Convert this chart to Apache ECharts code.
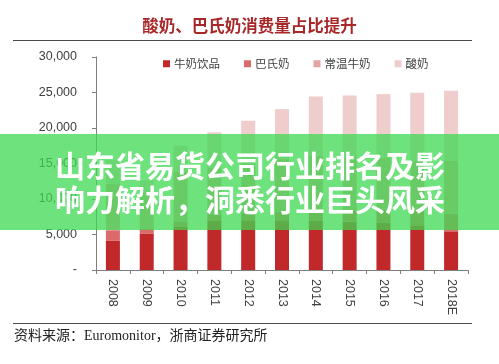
<!DOCTYPE html>
<html>
<head>
<meta charset="utf-8">
<script src="https://cdn.jsdelivr.net/npm/echarts@6/dist/echarts.min.js"></script>
<style>
html,body{margin:0;padding:0;background:#fff;}
#c{width:499px;height:364px;}
</style>
</head>
<body>
<div id="c"></div>
<script>
var titleText = '酸奶、巴氏奶消费量占比提升';
var sourceText = '资料来源：Euromonitor，浙商证券研究所';
var bannerLine1 = '山东省易货公司行业排名及影';
var bannerLine2 = '响力解析，洞悉行业巨头风采';

var years = ['2008','2009','2010','2011','2012','2013','2014','2015','2016','2017','2018E'];
var seriesNames = ['牛奶饮品','巴氏奶','常温牛奶','酸奶'];
var milkDrinks   = [4100, 5150, 6150, 6900, 7000, 7000, 6900, 6800, 6700, 6300, 5450];
var pasteurized  = [1500,  700,  700,  900, 1000, 1200, 1400, 1600, 1800, 2100, 2500];
var ambientMilk  = [6500, 5000, 7000, 6600, 7000, 7400, 7800, 7600, 7300, 7000, 7450];
var yogurt       = [3400, 1800, 3670, 4990, 6030, 7060, 8340, 8580, 8970, 9550, 9830];
var yTicks = [0, 5000, 10000, 15000, 20000, 25000, 30000];

var colors = ['#c0282a', '#db6b6b', '#e6a3a3', '#efcdcd'];
var seriesData = [milkDrinks, pasteurized, ambientMilk, yogurt];

var chart = echarts.init(document.getElementById('c'), null, {renderer: 'canvas'});

function fmt(v) {
  if (v === 0) return '-';
  return String(v).replace(/\B(?=(\d{3})+(?!\d))/g, ',');
}

var series = seriesNames.map(function (name, i) {
  return {
    name: name,
    type: 'bar',
    stack: 'total',
    barWidth: 14,
    itemStyle: {color: colors[i]},
    data: seriesData[i]
  };
});

var option = {
  animation: false,
  backgroundColor: '#ffffff',
  textStyle: {fontFamily: 'Liberation Sans, Noto Sans CJK SC'},
  title: {
    text: titleText,
    left: 'center',
    top: 12,
    textStyle: {color: '#a8282a', fontSize: 16.5, fontWeight: 'bold', fontFamily: 'Noto Sans CJK SC'}
  },
  legend: {
    top: 53,
    left: 158,
    itemWidth: 7,
    itemHeight: 7,
    itemGap: 24,
    icon: 'rect',
    textStyle: {color: '#404040', fontSize: 11.5, fontFamily: 'Noto Sans CJK SC', padding: [0,0,0,-1]},
    data: seriesNames
  },
  grid: {left: 96, right: 31, top: 57, bottom: 94, containLabel: false},
  xAxis: {
    type: 'category',
    data: years,
    axisLine: {lineStyle: {color: '#7f7f7f', width: 1}},
    axisTick: {show: true, alignWithLabel: false, length: 4, lineStyle: {color: '#7f7f7f'}},
    axisLabel: {rotate: -90, color: '#404040', fontSize: 12.5, margin: 9, fontFamily: 'Liberation Sans'}
  },
  yAxis: {
    type: 'value',
    min: 0,
    max: 30000,
    interval: 5000,
    splitLine: {show: false},
    axisLine: {show: true, lineStyle: {color: '#7f7f7f', width: 1}},
    axisTick: {show: true, length: 4, lineStyle: {color: '#7f7f7f'}},
    axisLabel: {
      color: '#404040', fontSize: 12.5, margin: 19, fontFamily: 'Liberation Sans',
      formatter: function (v) { return yTicks.indexOf(v) >= 0 ? fmt(v) : ''; }
    }
  },
  series: series,
  graphic: [
    {type: 'line', shape: {x1: 13, y1: 40.5, x2: 472, y2: 40.5}, style: {stroke: '#4a4a4a', lineWidth: 1}},
    {type: 'line', shape: {x1: 13, y1: 323.5, x2: 472, y2: 323.5}, style: {stroke: '#4a4a4a', lineWidth: 1}},
    {type: 'text', left: 14, top: 329, style: {text: sourceText, fill: '#222', fontSize: 14, fontFamily: 'Liberation Serif, Noto Sans CJK SC'}},
    {type: 'rect', z: 100, shape: {x: 0, y: 134, width: 499, height: 96}, style: {fill: 'rgba(62,216,82,0.75)'}},
    {type: 'text', z: 101, x: 250, y: 166, style: {text: bannerLine1, fill: '#ffffff', fontSize: 30, fontWeight: 'bold', fontFamily: 'Noto Sans CJK SC', align: 'center', verticalAlign: 'middle'}},
    {type: 'text', z: 101, x: 250, y: 200, style: {text: bannerLine2, fill: '#ffffff', fontSize: 30, fontWeight: 'bold', fontFamily: 'Noto Sans CJK SC', align: 'center', verticalAlign: 'middle'}}
  ]
};
chart.setOption(option);
</script>
</body>
</html>
